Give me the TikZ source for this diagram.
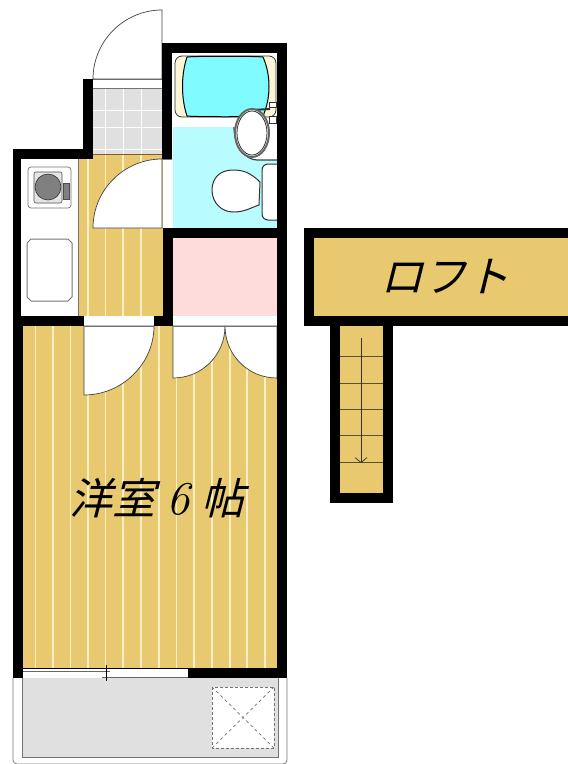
\documentclass[tikz,border=0pt]{standalone}
\usepackage{fontspec}
\usetikzlibrary{arrows.meta}
\newfontfamily\cjk[FakeSlant=0.25]{Noto Sans CJK JP}
\definecolor{floorc}{HTML}{E8C96F}
\definecolor{stripec}{HTML}{FBEFC4}
\definecolor{tilec}{HTML}{E0E0E0}
\definecolor{bathc}{HTML}{B8FCFF}
\definecolor{tubc}{HTML}{80FBFF}
\definecolor{rimc}{HTML}{FBF6D8}
\definecolor{closetc}{HTML}{FFDCDC}
\tikzset{
  wall/.style={fill=black},
  floorarea/.style={fill=floorc},
  stripe/.style={stripec,line width=1.3pt},
  doorleaf/.style={draw=black!75,fill=white,line width=0.7pt},
  thin gray/.style={draw=black!55,line width=0.7pt},
  fixture/.style={draw=black!80,fill=white,line width=1pt},
  roomtext/.style={font=\cjk\fontsize{43}{43}\selectfont,inner sep=0pt}
}
\begin{document}
\begin{tikzpicture}[x=1pt,y=-1pt]
\useasboundingbox (0,0) rectangle (568,764);
% balcony
\draw[thin gray,rounded corners=4pt] (13,678) -- (13,764) -- (287,764) -- (287,678);
\fill[tilec] (22,678) rectangle (278,757);
\draw[thin gray] (22,678) -- (22,757) -- (278,757) -- (278,678);
\fill[white] (212,687) rectangle (274,748);
\draw[black!55,densely dashed,line width=0.9pt] (212,687) rectangle (274,748);
\draw[black!55,dashed,line width=0.7pt] (212,687) -- (274,748);
\draw[black!55,dashed,line width=0.7pt] (274,687) -- (212,748);
% floors
\fill[floorarea] (22,326) rectangle (277,668);
\fill[floorarea] (78,154) rectangle (163,316);
\foreach \sx in {35.5,53,70.7,88,105.7,123,141,159,176.7,194,212,230,247,265}
  \draw[stripe] (\sx,326) -- (\sx,668);
\foreach \sx in {88,105.7,123,141}
  \draw[stripe] (\sx,154) -- (\sx,316);
\draw[thin gray] (78,154) -- (78,316);
% entrance tiles
\fill[tilec] (93,88) rectangle (162,154);
\foreach \sx in {105,123,141}
  \draw[white,line width=1pt] (\sx,88) -- (\sx,154);
\foreach \sy in {110,127,149}
  \draw[white,line width=1pt] (93,\sy) -- (162,\sy);
\draw[thin gray] (93,79) -- (162,79);
\draw[thin gray] (93,88) -- (162,88);
\draw[draw=brown!70!black,line width=0.6pt] (93,154) -- (162,154);
% bath
\fill[bathc] (173,127) -- (234,127) .. controls (234,145) and (245,160) .. (257,160) -- (277,160) -- (277,228) -- (173,228) -- cycle;
\draw[fixture,fill=rimc,line width=0.8pt,rounded corners=7pt] (175,56) rectangle (276,117);
\fill[tubc,draw=black,line width=1pt] (187,57) .. controls (195,56) and (255,56) .. (263,57) .. controls (271,75) and (271,98) .. (263,116) .. controls (255,117) and (195,117) .. (187,116) .. controls (181,98) and (181,75) .. (187,57) -- cycle;
\draw[black!75,line width=1.2pt] (234,127) .. controls (234,145) and (245,160) .. (257,160) -- (277,160);
\draw[black!80,line width=2pt] (252,110) -- (270,109);
\draw[fixture,line width=0.7pt] (269,102) rectangle (276,107);
\draw[fixture,line width=0.7pt] (269,116) rectangle (276,123);
\draw[fixture,line width=2pt,draw=black!60] (252,133) ellipse (17 and 24);
\draw[fixture,line width=0.8pt] (252,133) ellipse (15 and 22);
\draw[fixture,rounded corners=6pt] (280,164) -- (262,164) -- (262,220) -- (280,220);
\draw[fixture] (260,182) .. controls (250,172) and (242,170) .. (233,170) .. controls (220,170) and (212,178) .. (212,190) .. controls (212,203) and (222,212) .. (233,212) .. controls (245,212) and (250,208) .. (259,205) -- cycle;
% closet and kitchen
\fill[closetc] (173,238) rectangle (277,316);
\draw[thin gray,fill=white,rounded corners=3pt] (28,167) rectangle (71,208);
\fill[black!10,draw=black!70,line width=0.6pt,rounded corners=2pt] (34,172) rectangle (62,203);
\fill[black!50,draw=black!80,line width=0.6pt] (48,187) circle (13);
\fill[black!50,draw=black!70,line width=0.6pt] (63,183) rectangle (69,199);
\draw[thin gray,line width=1pt] (31,239) -- (68,239) -- (72,243) -- (72,297) -- (68,301) -- (31,301) -- (27,297) -- (27,243) -- cycle;
% doors
\draw[doorleaf] (162,79) -- (162,10) .. controls (124,10) and (93,41) .. (93,79) -- cycle;
\draw[doorleaf] (162,228) -- (93,228) .. controls (93,190) and (124,159) .. (162,159) -- cycle;
\draw[thin gray] (162,159) -- (172,159);
\draw[doorleaf] (84,326) -- (84,395) .. controls (122,395) and (154,364) .. (154,326) -- cycle;
\draw[doorleaf] (173,326) -- (173,378) .. controls (202,378) and (225,355) .. (225,326) -- cycle;
\draw[doorleaf] (277,326) -- (277,378) .. controls (248,378) and (225,355) .. (225,326) -- cycle;
\draw[thin gray] (84,326) -- (154,326);
\draw[thin gray] (173,326) -- (277,326);
% walls
\fill[wall] (162,43) rectangle (287,53);
\fill[wall] (277,43) rectangle (287,678);
\fill[wall] (162,43) rectangle (172,159);
\fill[wall] (163,228) rectangle (287,238);
\fill[wall] (163,228) rectangle (173,326);
\fill[wall] (83,79) rectangle (93,159);
\fill[wall] (13,149) rectangle (93,159);
\fill[wall] (13,149) rectangle (21,316);
\fill[wall] (13,316) rectangle (84,326);
\fill[wall] (154,316) rectangle (173,326);
\fill[wall] (13,316) rectangle (23,678);
\fill[wall] (188,668) rectangle (287,678);
% window
\draw[black,line width=0.7pt] (23,668.5) -- (188,668.5);
\draw[black!60,line width=1pt] (23,671) -- (110,671);
\draw[black!60,line width=1pt] (102,677) -- (188,677);
\draw[black,line width=0.8pt] (106,665) -- (106,681);
% loft
\fill[wall] (304,228) rectangle (568,326);
\fill[floorarea] (314,238) rectangle (568,316);
\fill[wall] (330,316) rectangle (393,503);
\fill[floorarea] (340,326) rectangle (383,493);
\foreach \sy in {356,383,409,435,462}
  \draw[black!60!floorc,line width=0.8pt] (340,\sy) -- (383,\sy);
\coordinate (stairtop) at (361,338);
\coordinate (stairend) at (361,463);
\draw[-{Straight Barb[length=5pt,width=12pt]},black!80,line width=0.7pt] (stairtop) -- (stairend);
\node[roomtext] (loftlabel) at (445,276) {ロフト};
\node[roomtext] (roomlabel) at (157,498) {洋室\hspace{11pt}{\normalfont\itshape\fontsize{47}{47}\selectfont 6}\hspace{11pt}帖};
\end{tikzpicture}
\end{document}
